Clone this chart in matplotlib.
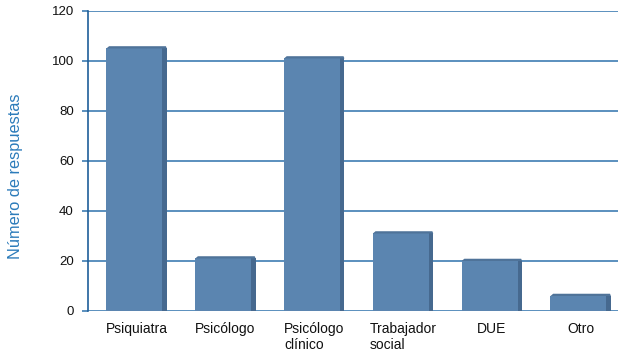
import matplotlib
matplotlib.use("Agg")
import matplotlib.pyplot as plt
from matplotlib.patches import Polygon

plt.rcParams['font.family'] = ['Liberation Sans', 'DejaVu Sans']

categories = ["Psiquiatra", "Psicólogo", "Psicólogo\nclínico", "Trabajador\nsocial", "DUE", "Otro"]
values = [105, 21, 101, 31, 20, 6]
yticks = [0, 20, 40, 60, 80, 100, 120]

face = "#5b85b0"
side = "#46698f"
top_c = "#4f7399"
grid_c = "#3e7db3"

fig = plt.figure(figsize=(6.18, 3.53), dpi=100)
ax = fig.add_axes([0.142, 0.119, 0.858, 0.850])

x = list(range(len(categories)))
width = 0.68
ax.set_xlim(-0.55, 5.42)
ax.set_ylim(0, 120)

for yt in yticks:
    ax.axhline(yt, color=grid_c, lw=1.2, zorder=1)

ax.bar(x, values, width=width, color=face, zorder=3, edgecolor="none")

# thin side and top faces give the bars a slight depth
dx = 0.05
dy = 0.9
for xi, v in zip(x, values):
    r = xi + width / 2
    l = xi - width / 2
    ax.add_patch(Polygon([(r - dx, 0), (r, 0), (r, v), (r - dx, v)],
                         closed=True, color=side, zorder=4, lw=0))
    ax.add_patch(Polygon([(l, v), (l + 0.03, v + dy), (r - 0.01, v + dy), (r, v)],
                         closed=True, color=top_c, zorder=4, lw=0))

ax.set_xticks(x)
ax.set_xticklabels(categories, fontsize=10, multialignment="left", color="#111111")
ax.set_yticks(yticks)
ax.set_yticklabels([str(t) for t in yticks], fontsize=9.5, color="#111111")
ax.tick_params(axis="x", length=0, pad=8)
ax.tick_params(axis="y", length=4, color=grid_c, width=1.2, pad=6)

for s in ["top", "right", "bottom"]:
    ax.spines[s].set_visible(False)
ax.spines["left"].set_color("#1f5f99")
ax.spines["left"].set_linewidth(1.2)
ax.spines["left"].set_zorder(5)

fig.text(16 / 618, 0.5, "Número de respuestas", rotation=90, fontsize=11.8,
         color="#2b7bba", ha="center", va="center")

fig.savefig("out.png", dpi=100)
